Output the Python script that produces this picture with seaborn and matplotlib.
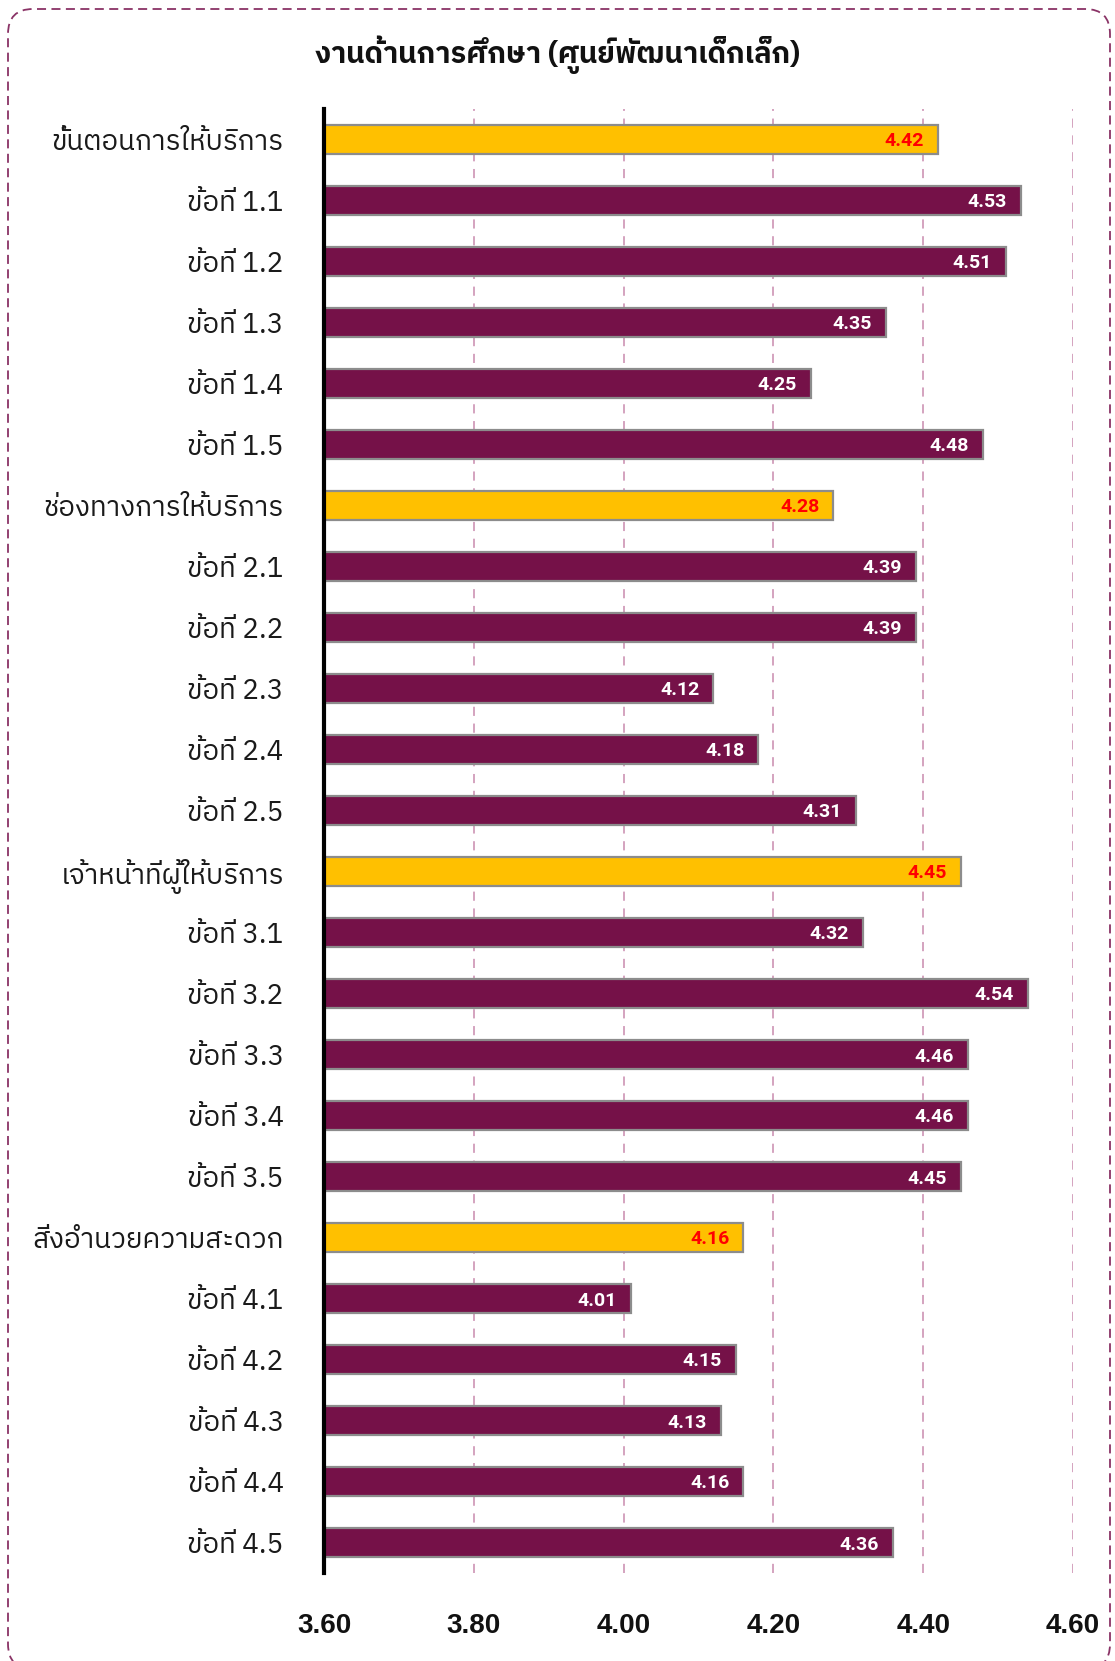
import matplotlib
matplotlib.use("Agg")
import matplotlib.pyplot as plt
from matplotlib import font_manager as fm
from matplotlib.patches import FancyBboxPatch
from matplotlib.transforms import IdentityTransform
import seaborn as sns
import pandas as pd

# ---------------- data ----------------
title = "งานด้านการศึกษา (ศูนย์พัฒนาเด็กเล็ก)"
labels = [
    "ขั้นตอนการให้บริการ", "ข้อที่ 1.1", "ข้อที่ 1.2", "ข้อที่ 1.3", "ข้อที่ 1.4", "ข้อที่ 1.5",
    "ช่องทางการให้บริการ", "ข้อที่ 2.1", "ข้อที่ 2.2", "ข้อที่ 2.3", "ข้อที่ 2.4", "ข้อที่ 2.5",
    "เจ้าหน้าที่ผู้ให้บริการ", "ข้อที่ 3.1", "ข้อที่ 3.2", "ข้อที่ 3.3", "ข้อที่ 3.4", "ข้อที่ 3.5",
    "สิ่งอำนวยความสะดวก", "ข้อที่ 4.1", "ข้อที่ 4.2", "ข้อที่ 4.3", "ข้อที่ 4.4", "ข้อที่ 4.5",
]
values = [
    4.42, 4.53, 4.51, 4.35, 4.25, 4.48,
    4.28, 4.39, 4.39, 4.12, 4.18, 4.31,
    4.45, 4.32, 4.54, 4.46, 4.46, 4.45,
    4.16, 4.01, 4.15, 4.13, 4.16, 4.36,
]
kinds = [
    "group", "item", "item", "item", "item", "item",
    "group", "item", "item", "item", "item", "item",
    "group", "item", "item", "item", "item", "item",
    "group", "item", "item", "item", "item", "item",
]
x_ticks = [3.60, 3.80, 4.00, 4.20, 4.40, 4.60]

# ---------------- fonts ----------------
def find_thai_fonts():
    found = []
    try:
        from fontTools.ttLib import TTFont
    except Exception:
        return found
    seen = set()
    for f in fm.fontManager.ttflist:
        if f.name in seen:
            continue
        try:
            tt = TTFont(f.fname, fontNumber=0, lazy=True)
            cmap = tt.getBestCmap()
            if cmap and 0x0E01 in cmap:
                found.append(f.name)
                seen.add(f.name)
        except Exception:
            pass
    return found

thai_fonts = find_thai_fonts()
pref = [n for n in thai_fonts if "Thai" in n and "Looped" not in n] + thai_fonts
thai_family = [pref[0], "DejaVu Sans"] if pref else ["DejaVu Sans"]

sns.set_theme(style="white")
plt.rcParams["font.family"] = thai_family

df = pd.DataFrame({"label": labels, "value": values, "kind": kinds})

W, H = 1115, 1661
fig = plt.figure(figsize=(W / 100, H / 100), dpi=100)
fig.patch.set_facecolor("white")
ax = fig.add_axes([324 / W, 1 - 1573 / H, (1073 - 324) / W, (1573 - 109) / H])

sns.barplot(
    data=df, x="value", y="label", hue="kind", orient="h", dodge=False,
    palette={"group": "#FFC000", "item": "#751148"},
    width=0.46, edgecolor="#8C8C8C", linewidth=1.6, legend=False, ax=ax,
    saturation=1,
)

ax.set_xlim(3.6, 4.6)
ax.set_ylim(len(labels) - 0.5, -0.5)
ax.set_xticks(x_ticks)
ax.set_xticklabels([f"{t:.2f}" for t in x_ticks], fontsize=20, fontweight="bold",
                   family=["Liberation Sans", "DejaVu Sans"], color="#111111")
ax.tick_params(axis="x", length=0, pad=29)
ax.tick_params(axis="y", length=0, pad=29)
for t in ax.get_yticklabels():
    t.set_fontsize(20)
    t.set_color("#1a1a1a")
ax.set_xlabel("")
ax.set_ylabel("")

for s in ["top", "right", "bottom"]:
    ax.spines[s].set_visible(False)
ax.spines["left"].set_color("black")
ax.spines["left"].set_linewidth(3)
ax.spines["left"].set_zorder(5)

for t in x_ticks[1:]:
    ax.axvline(t, color="#C98AAE", lw=1.1, ls=(0, (6, 5)), zorder=0)

for i, (v, k) in enumerate(zip(values, kinds)):
    ax.annotate(f"{v:.2f}", xy=(v, i), xytext=(-14, -2), textcoords="offset pixels",
                ha="right", va="center", fontsize=14, fontweight="bold",
                family=["Roboto", "DejaVu Sans"],
                color="#FF0000" if k == "group" else "white", zorder=6)

fig.text(0.5, 1 - 55 / H, title, ha="center", va="center", fontsize=21,
         fontweight="bold", color="#111111")

border = FancyBboxPatch((8, -8), 1102, H - 9 + 8,
                        boxstyle="round,pad=0,rounding_size=25",
                        transform=IdentityTransform(), fill=False,
                        edgecolor="#8A3366", lw=1.3, ls=(0, (5, 3)))
fig.add_artist(border)

fig.savefig("out.png", dpi=100)
